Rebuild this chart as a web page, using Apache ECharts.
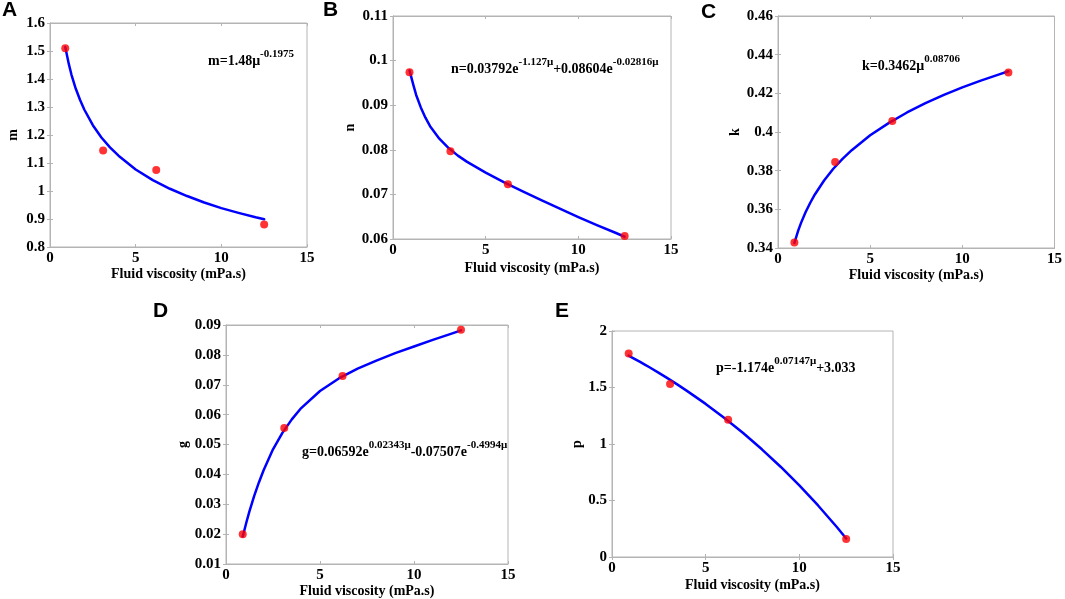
<!DOCTYPE html>
<html>
<head>
<meta charset="utf-8">
<script src="https://cdn.jsdelivr.net/npm/echarts@6/dist/echarts.min.js"></script>
<style>
html,body{margin:0;padding:0;background:#fff;}
#chart{width:1065px;height:599px;}
</style>
</head>
<body>
<div id="chart"></div>
<script>
// measured points (fluid viscosity, mPa.s)
var viscosity = [0.89, 3.1, 6.2, 12.5];
var mPts = [1.51, 1.145, 1.075, 0.88];
var nPts = [0.0974, 0.0797, 0.0723, 0.0607];
var kPts = [0.3428, 0.3845, 0.4057, 0.4308];
var gPts = [0.0200, 0.0555, 0.0729, 0.0884];
var pPts = [1.80, 1.53, 1.215, 0.16];

// fitted curves
var curveX = [0.89, 1.1, 1.25, 1.5, 1.75, 2, 2.5, 3, 3.5, 4, 5, 6, 7, 8, 9, 10, 11, 12, 12.5];
var mCurve = [1.514, 1.453, 1.416, 1.366, 1.326, 1.291, 1.235, 1.191, 1.156, 1.126, 1.077, 1.039, 1.008, 0.982, 0.959, 0.939, 0.922, 0.906, 0.899];
var nCurve = [0.0978, 0.0945, 0.0923, 0.0895, 0.0872, 0.0853, 0.0825, 0.0804, 0.0787, 0.0773, 0.0749, 0.0727, 0.0707, 0.0687, 0.0668, 0.0649, 0.0631, 0.0614, 0.0605];
var kCurve = [0.3427, 0.3491, 0.3530, 0.3586, 0.3634, 0.3677, 0.3749, 0.3810, 0.3861, 0.3906, 0.3983, 0.4046, 0.4101, 0.4149, 0.4192, 0.4231, 0.4266, 0.4298, 0.4314];
var gCurve = [0.0192, 0.0243, 0.0277, 0.0328, 0.0373, 0.0414, 0.0484, 0.0539, 0.0584, 0.0622, 0.0679, 0.0721, 0.0754, 0.0781, 0.0806, 0.0828, 0.0850, 0.0871, 0.0882];
var pCurve = [1.782, 1.763, 1.749, 1.726, 1.703, 1.679, 1.629, 1.578, 1.525, 1.470, 1.355, 1.230, 1.097, 0.953, 0.799, 0.634, 0.456, 0.265, 0.164];

var panelLetters = ['A', 'B', 'C', 'D', 'E'];
var yNames = ['m', 'n', 'k', 'g', 'p'];
var yRanges = [[0.8, 1.6, 0.1], [0.06, 0.11, 0.01], [0.34, 0.46, 0.02], [0.01, 0.09, 0.01], [0, 2, 0.5]];
var xRange = [0, 15, 5];
var xTitle = 'Fluid viscosity (mPa.s)';
var equations = [
  '{b|m=1.48μ}{s|-0.1975}',
  '{b|n=0.03792e}{s|-1.127μ}{b|+0.08604e}{s|-0.02816μ}',
  '{b|k=0.3462μ}{s|0.08706}',
  '{b|g=0.06592e}{s|0.02343μ}{b|-0.07507e}{s|-0.4994μ}',
  '{b|p=-1.174e}{s|0.07147μ}{b|+3.033}'
];
var ptSets = [mPts, nPts, kPts, gPts, pPts];
var curveSets = [mCurve, nCurve, kCurve, gCurve, pCurve];

// layout
var grids = [
  {left: 50, top: 23, width: 257, height: 224},
  {left: 393, top: 16, width: 278, height: 223},
  {left: 778, top: 16, width: 281, height: 232},
  {left: 226, top: 325, width: 282, height: 240},
  {left: 612, top: 331, width: 281, height: 226}
];
var xNameGaps = [15, 22, 19, 20, 21];
var yNameGaps = [30, 31, 34, 33, 28];
var letterPos = [[2, 0], [323, 0], [701, 2], [153, 301], [555, 301]];
var eqPos = [[208, 49], [451, 57], [862, 54], [302, 440], [716, 356]];

var SERIF = '"Liberation Serif", "Times New Roman", serif';
var frameColor = '#b4b4b4';

var xAxes = [], yAxes = [], series = [], graphics = [];
grids.forEach(function (g, i) {
  g.show = true; g.borderColor = frameColor; g.borderWidth = 1; g.containLabel = false;
  var yr = yRanges[i];
  xAxes.push({
    type: 'value', gridIndex: i, min: xRange[0], max: xRange[1], interval: xRange[2],
    name: xTitle, nameLocation: 'middle', nameGap: xNameGaps[i],
    nameTextStyle: {fontFamily: SERIF, fontWeight: 'bold', fontSize: 14, color: '#000'},
    axisLine: {show: true, lineStyle: {color: frameColor}},
    axisTick: {inside: true, length: 3, lineStyle: {color: frameColor}},
    axisLabel: {fontFamily: SERIF, fontWeight: 'bold', fontSize: 15, color: '#000', margin: 4},
    splitLine: {show: false}
  });
  xAxes.push({
    type: 'value', gridIndex: i, position: 'top', min: xRange[0], max: xRange[1], interval: xRange[2],
    axisLine: {show: true, lineStyle: {color: frameColor}},
    axisTick: {inside: true, length: 3, lineStyle: {color: frameColor}},
    axisLabel: {show: false}, splitLine: {show: false}
  });
  yAxes.push({
    type: 'value', gridIndex: i, min: yr[0], max: yr[1], interval: yr[2],
    name: yNames[i], nameLocation: 'middle', nameGap: yNameGaps[i],
    nameTextStyle: {fontFamily: SERIF, fontWeight: 'bold', fontSize: 14, color: '#000'},
    axisLine: {show: true, lineStyle: {color: frameColor}},
    axisTick: {inside: true, length: 3, lineStyle: {color: frameColor}},
    axisLabel: {fontFamily: SERIF, fontWeight: 'bold', fontSize: 15, color: '#000', margin: 5},
    splitLine: {show: false}
  });
  yAxes.push({
    type: 'value', gridIndex: i, position: 'right', min: yr[0], max: yr[1], interval: yr[2],
    axisLine: {show: true, lineStyle: {color: frameColor}},
    axisTick: {inside: true, length: 3, lineStyle: {color: frameColor}},
    axisLabel: {show: false}, splitLine: {show: false}
  });
  var curveData = curveX.map(function (x, j) { return [x, curveSets[i][j]]; });
  var ptData = viscosity.map(function (x, j) { return [x, ptSets[i][j]]; });
  series.push({
    type: 'line', xAxisIndex: 2 * i, yAxisIndex: 2 * i, data: curveData,
    showSymbol: false, smooth: false,
    lineStyle: {color: '#0000ff', width: 2.5, join: 'round', cap: 'round'}, z: 2, silent: true
  });
  series.push({
    type: 'scatter', xAxisIndex: 2 * i, yAxisIndex: 2 * i, data: ptData,
    symbol: 'circle', symbolSize: 8, itemStyle: {color: '#ff0000'}, z: 3, silent: true
  });
  graphics.push({
    type: 'text', left: letterPos[i][0], top: letterPos[i][1],
    style: {text: panelLetters[i], font: 'bold 21px "Liberation Sans", Arial, sans-serif', fill: '#000'}
  });
  graphics.push({
    type: 'text', left: eqPos[i][0], top: eqPos[i][1],
    style: {
      text: equations[i], fill: '#000',
      rich: {
        b: {fontFamily: SERIF, fontWeight: 'bold', fontSize: 14, lineHeight: 19, verticalAlign: 'bottom', fill: '#000', color: '#000'},
        s: {fontFamily: SERIF, fontWeight: 'bold', fontSize: 11, lineHeight: 19, verticalAlign: 'top', fill: '#000', color: '#000'}
      }
    }
  });
});

var chart = echarts.init(document.getElementById('chart'), null, {renderer: 'canvas'});
chart.setOption({
  backgroundColor: '#fff',
  animation: false,
  grid: grids,
  xAxis: xAxes,
  yAxis: yAxes,
  series: series,
  graphic: graphics
});
</script>
</body>
</html>
